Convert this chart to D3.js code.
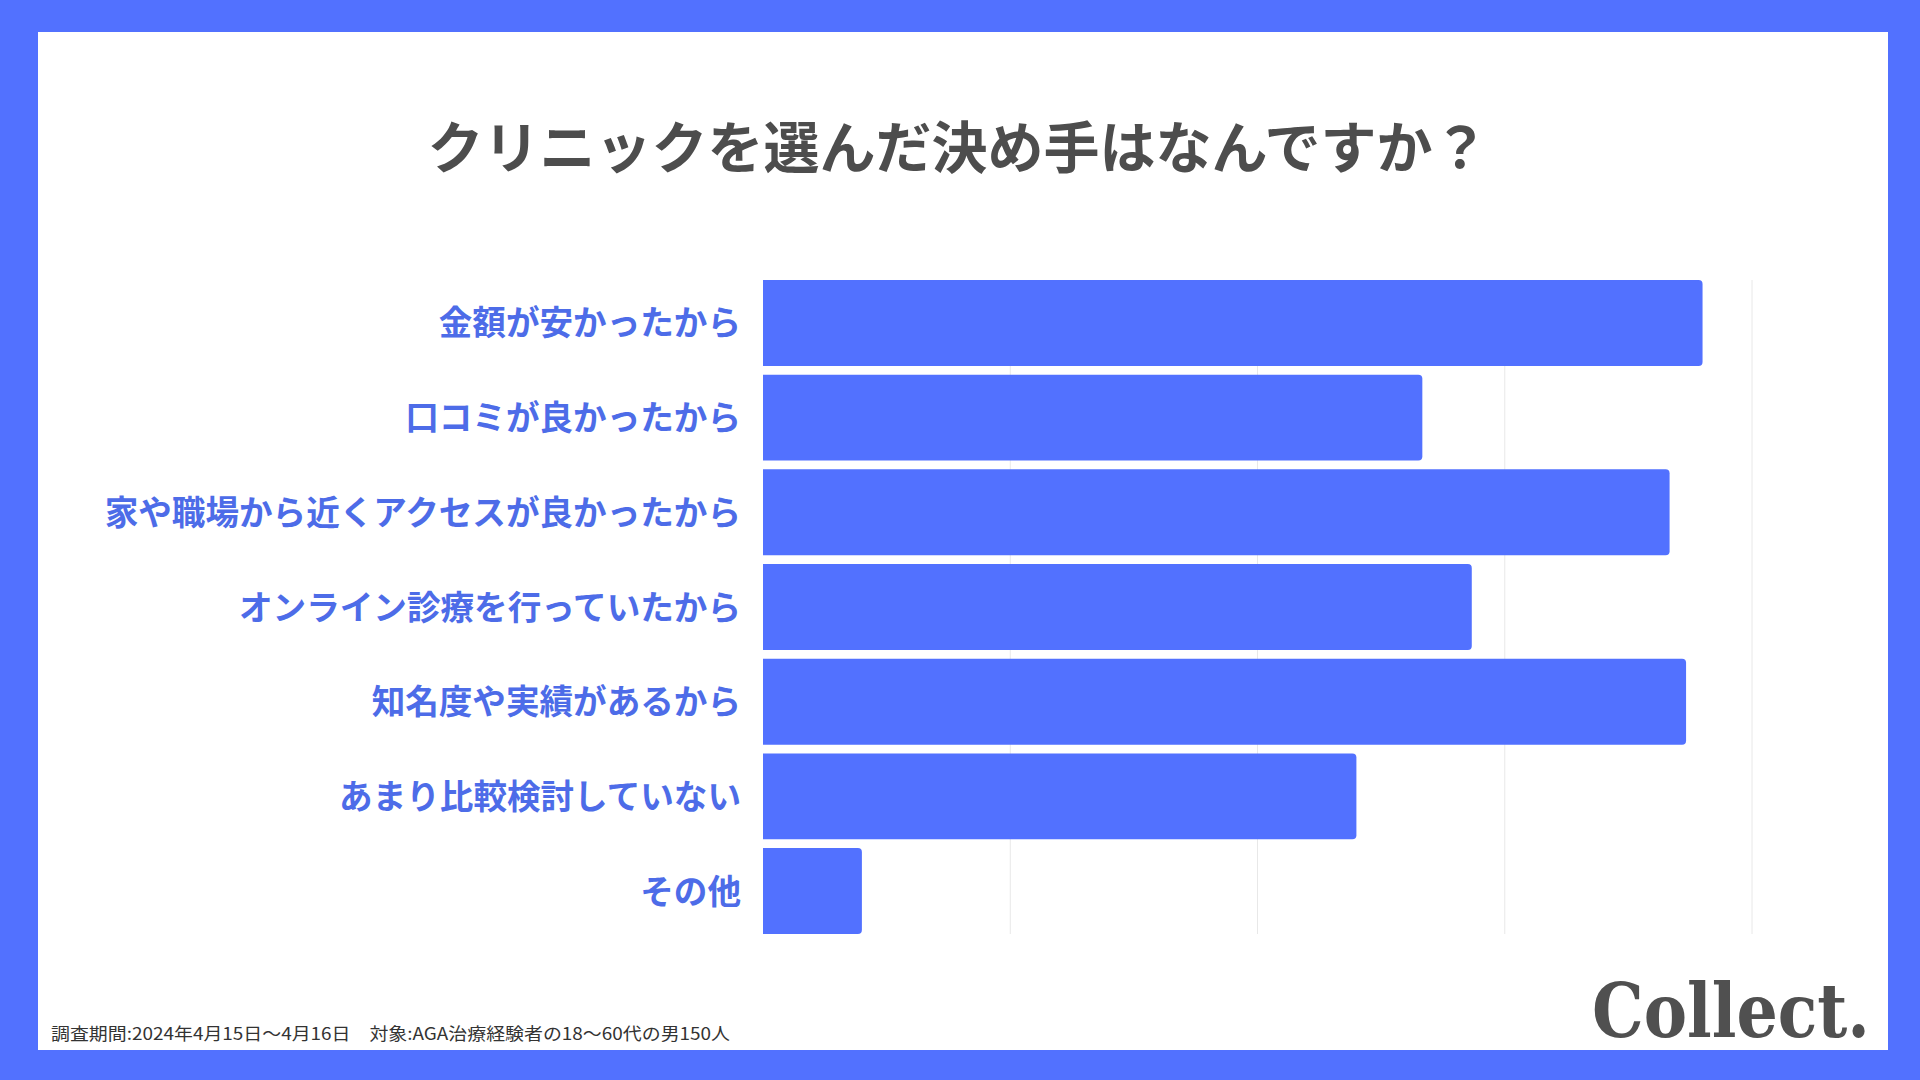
<!DOCTYPE html>
<html>
<head>
<meta charset="utf-8">
<script src="https://cdn.jsdelivr.net/npm/d3@7"></script>
<style>
  html, body { margin: 0; padding: 0; background: #5271ff; }
  svg { display: block; }
</style>
</head>
<body>
<svg id="chart"></svg>
<script>
// survey answers (n=150)
var categories = [
    "金額が安かったから",
    "口コミが良かったから",
    "家や職場から近くアクセスが良かったから",
    "オンライン診療を行っていたから",
    "知名度や実績があるから",
    "あまり比較検討していない",
    "その他"
];
var counts = [57, 40, 55, 43, 56, 36, 6];
var xTicks = [0, 15, 30, 45, 60];

var title = "クリニックを選んだ決め手はなんですか？";
var note = "調査期間:2024年4月15日～4月16日　対象:AGA治療経験者の18～60代の男150人";

var W = 1920, H = 1080;
var blue = "#5271ff";
var cjk = "'Noto Sans CJK JP', 'Noto Sans', sans-serif";

var svg = d3.select("#chart")
        .attr("width", W)
        .attr("height", H);

// outer blue frame + white card
svg.append("rect")
        .attr("width", W).attr("height", H)
        .attr("fill", blue);
svg.append("rect")
        .attr("x", 38).attr("y", 32)
        .attr("width", 1850).attr("height", 1018)
        .attr("fill", "#ffffff");

svg.append("text")
        .attr("x", 958).attr("y", 143)
        .attr("text-anchor", "middle")
        .attr("dominant-baseline", "central")
        .attr("font-family", cjk)
        .attr("font-weight", 700)
        .attr("font-size", 56)
        .attr("fill", "#4d4d4d")
        .text(title);

var x = d3.scaleLinear()
        .domain([0, 60])
        .range([763, 1752]);

var y = d3.scaleBand()
        .domain(categories)
        .range([275.6, 938.4])
        .paddingInner(0.092)
        .paddingOuter(0.046);

var plotTop = y(categories[0]);
var plotBottom = y(categories[categories.length - 1]) + y.bandwidth();

// vertical gridlines
svg.append("g")
        .selectAll("line")
        .data(xTicks.slice(1))
        .enter()
        .append("line")
        .attr("x1", function(d) { return x(d); })
        .attr("x2", function(d) { return x(d); })
        .attr("y1", plotTop)
        .attr("y2", plotBottom)
        .attr("stroke", "#e8e8e8")
        .attr("stroke-width", 1);

// bars, rounded on the right end only
var r = 4;
svg.append("g")
        .selectAll("path")
        .data(counts)
        .enter()
        .append("path")
        .attr("d", function(d, i) {
            var x0 = x(0), x1 = x(d);
            var y0 = y(categories[i]), y1 = y0 + y.bandwidth();
            return "M" + x0 + "," + y0 +
                   "H" + (x1 - r) +
                   "Q" + x1 + "," + y0 + " " + x1 + "," + (y0 + r) +
                   "V" + (y1 - r) +
                   "Q" + x1 + "," + y1 + " " + (x1 - r) + "," + y1 +
                   "H" + x0 + "Z";
        })
        .attr("fill", blue);

// category labels
svg.append("g")
        .selectAll("text")
        .data(categories)
        .enter()
        .append("text")
        .attr("x", 741)
        .attr("y", function(d) { return y(d) + y.bandwidth() / 2 - 2; })
        .attr("text-anchor", "end")
        .attr("dominant-baseline", "central")
        .attr("font-family", cjk)
        .attr("font-weight", 700)
        .attr("font-size", 33.6)
        .attr("fill", "#4d6ce8")
        .text(function(d) { return d; });

// footnote
svg.append("text")
        .attr("x", 51).attr("y", 1040)
        .attr("font-family", cjk)
        .attr("font-size", 17)
        .attr("textLength", 679)
        .attr("lengthAdjust", "spacingAndGlyphs")
        .attr("fill", "#333333")
        .text(note);

// logo
svg.append("text")
        .attr("x", 1592).attr("y", 1037)
        .attr("font-family", "'DejaVu Serif', serif")
        .attr("font-weight", 700)
        .attr("font-size", 75)
        .attr("textLength", 278)
        .attr("lengthAdjust", "spacingAndGlyphs")
        .attr("fill", "#505050")
        .text("Collect.");
</script>
</body>
</html>
